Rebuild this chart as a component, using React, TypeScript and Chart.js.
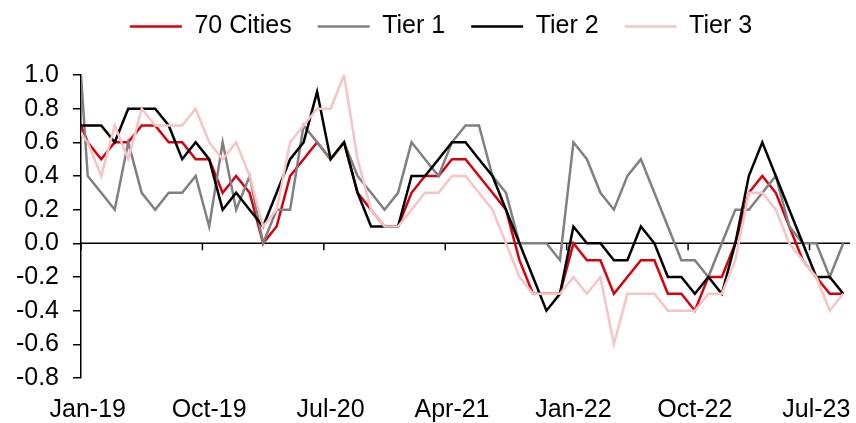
import React, { useEffect, useRef } from 'react';
import { Chart, registerables } from 'chart.js';

Chart.register(...registerables);

// Months (Dec-18 sits just left of the plot and is clipped, as in the source)
const MONTHS = [
  'Dec-18',
  'Jan-19', 'Feb-19', 'Mar-19', 'Apr-19', 'May-19', 'Jun-19', 'Jul-19', 'Aug-19', 'Sep-19', 'Oct-19', 'Nov-19', 'Dec-19',
  'Jan-20', 'Feb-20', 'Mar-20', 'Apr-20', 'May-20', 'Jun-20', 'Jul-20', 'Aug-20', 'Sep-20', 'Oct-20', 'Nov-20', 'Dec-20',
  'Jan-21', 'Feb-21', 'Mar-21', 'Apr-21', 'May-21', 'Jun-21', 'Jul-21', 'Aug-21', 'Sep-21', 'Oct-21', 'Nov-21', 'Dec-21',
  'Jan-22', 'Feb-22', 'Mar-22', 'Apr-22', 'May-22', 'Jun-22', 'Jul-22', 'Aug-22', 'Sep-22', 'Oct-22', 'Nov-22', 'Dec-22',
  'Jan-23', 'Feb-23', 'Mar-23', 'Apr-23', 'May-23', 'Jun-23', 'Jul-23', 'Aug-23', 'Sep-23',
];

const TICK_LABELS = ['Jan-19', 'Oct-19', 'Jul-20', 'Apr-21', 'Jan-22', 'Oct-22', 'Jul-23'];
const FIRST_MONTH = 'Jan-19';
const LAST_MONTH = 'Sep-23';

const CITIES70 = [
  0.8,
  0.6, 0.5, 0.6, 0.6, 0.7, 0.7, 0.6, 0.6, 0.5, 0.5, 0.3, 0.4,
  0.3, 0.0, 0.1, 0.4, 0.5, 0.6, 0.5, 0.6, 0.3, 0.2, 0.1, 0.1,
  0.3, 0.4, 0.4, 0.5, 0.5, 0.4, 0.3, 0.2, -0.1, -0.3, -0.3, -0.3,
  0.0, -0.1, -0.1, -0.3, -0.2, -0.1, -0.1, -0.3, -0.3, -0.4, -0.2, -0.2,
  0.0, 0.3, 0.4, 0.3, 0.1, -0.1, -0.2, -0.3, -0.3,
];

const TIER1 = [
  1.6,
  0.4, 0.3, 0.2, 0.6, 0.3, 0.2, 0.3, 0.3, 0.4, 0.1, 0.6, 0.2,
  0.4, 0.0, 0.2, 0.2, 0.7, 0.6, 0.5, 0.6, 0.4, 0.3, 0.2, 0.3,
  0.6, 0.5, 0.4, 0.6, 0.7, 0.7, 0.4, 0.3, 0.0, 0.0, 0.0, -0.1,
  0.6, 0.5, 0.3, 0.2, 0.4, 0.5, 0.3, 0.1, -0.1, -0.1, -0.2, 0.0,
  0.2, 0.2, 0.3, 0.4, 0.1, 0.0, 0.0, -0.2, 0.0,
];

const TIER2 = [
  0.7,
  0.7, 0.7, 0.6, 0.8, 0.8, 0.8, 0.7, 0.5, 0.6, 0.5, 0.2, 0.3,
  0.2, 0.1, 0.3, 0.5, 0.6, 0.9, 0.5, 0.6, 0.3, 0.1, 0.1, 0.1,
  0.4, 0.4, 0.5, 0.6, 0.6, 0.5, 0.4, 0.2, 0.0, -0.2, -0.4, -0.3,
  0.1, 0.0, 0.0, -0.1, -0.1, 0.1, 0.0, -0.2, -0.2, -0.3, -0.2, -0.3,
  0.0, 0.4, 0.6, 0.4, 0.2, 0.0, -0.2, -0.2, -0.3,
];

const TIER3 = [
  0.7,
  0.6, 0.4, 0.7, 0.5, 0.8, 0.7, 0.7, 0.7, 0.8, 0.6, 0.5, 0.6,
  0.4, 0.1, 0.2, 0.6, 0.7, 0.8, 0.8, 1.0, 0.5, 0.2, 0.1, 0.1,
  0.2, 0.3, 0.3, 0.4, 0.4, 0.3, 0.2, 0.0, -0.2, -0.3, -0.3, -0.3,
  -0.2, -0.3, -0.2, -0.6, -0.3, -0.3, -0.3, -0.4, -0.4, -0.4, -0.3, -0.3,
  -0.1, 0.3, 0.3, 0.2, 0.0, -0.1, -0.2, -0.4, -0.3,
];

const SERIES = [
  { label: '70 Cities', values: CITIES70, color: '#d9000d', order: 4 },
  { label: 'Tier 1', values: TIER1, color: '#808080', order: 3 },
  { label: 'Tier 2', values: TIER2, color: '#000000', order: 2 },
  { label: 'Tier 3', values: TIER3, color: '#f6c4c4', order: 1 },
];

const Y_MIN = -0.8;
const Y_MAX = 1.0;
const Y_STEP = 0.2;

const FONT = "'Liberation Sans', Arial, sans-serif";

// month index relative to Jan-19
const pos = (m: string) => MONTHS.indexOf(m) - MONTHS.indexOf(FIRST_MONTH);

export default function App() {
  const ref = useRef<HTMLCanvasElement | null>(null);

  useEffect(() => {
    if (!ref.current) return;
    Chart.defaults.font.family = FONT;
    Chart.defaults.color = '#000';

    const legendHeight = {
      id: 'legendHeight',
      beforeInit(chart: any) {
        const orig = chart.legend.fit;
        chart.legend.fit = function () {
          orig.bind(chart.legend)();
          this.height = 90;
        };
      },
      afterLayout(chart: any) {
        const lg = chart.legend;
        lg.left += 16;
        lg.right += 16;
        lg.top += 3;
      },
    };

    const zeroAxis = {
      id: 'zeroAxis',
      beforeDatasetsDraw(chart: any) {
        const { ctx, chartArea, scales } = chart;
        const y0 = scales.y.getPixelForValue(0);
        ctx.save();
        ctx.strokeStyle = '#000';
        ctx.lineWidth = 1.5;
        ctx.beginPath();
        ctx.moveTo(chartArea.left, y0);
        ctx.lineTo(chartArea.right, y0);
        TICK_LABELS.forEach((l) => {
          const px = scales.x.getPixelForValue(pos(l) - 0.5);
          ctx.moveTo(px, y0);
          ctx.lineTo(px, y0 + 7);
        });
        ctx.stroke();
        ctx.restore();
      },
    };

    const chart = new Chart(ref.current, {
      type: 'line',
      data: {
        datasets: SERIES.map((s) => ({
          label: s.label,
          data: s.values.map((v, i) => ({ x: pos(MONTHS[i]), y: v })),
          borderColor: s.color,
          backgroundColor: s.color,
          borderWidth: 2.5,
          pointRadius: 0,
          tension: 0,
          order: s.order,
        })),
      },
      options: {
        responsive: false,
        animation: false,
        layout: { padding: { top: -15, right: 6, left: 0, bottom: 0 } },
        plugins: {
          tooltip: { enabled: false },
          legend: {
            position: 'top',
            align: 'center',
            labels: {
              font: { size: 25, family: FONT },
              color: '#000',
              usePointStyle: true,
              pointStyle: 'line',
              pointStyleWidth: 52,
              padding: 26,
              sort: (a: any, b: any) => a.datasetIndex - b.datasetIndex,
            },
          },
        },
        scales: {
          x: {
            type: 'linear',
            min: pos(FIRST_MONTH) - 0.5,
            max: pos(LAST_MONTH) + 0.5,
            grid: { display: false, drawTicks: false },
            border: { display: false },
            afterBuildTicks: (scale: any) => {
              scale.ticks = TICK_LABELS.map((l) => ({ value: pos(l) }));
            },
            afterFit: (scale: any) => {
              scale.height = 45;
              scale.paddingLeft = 0;
              scale.paddingRight = 0;
            },
            ticks: {
              autoSkip: false,
              maxRotation: 0,
              padding: 17,
              font: { size: 25, family: FONT },
              color: '#000',
              callback: (v: any) => MONTHS[Math.round(v) + MONTHS.indexOf(FIRST_MONTH)],
            },
          },
          y: {
            min: Y_MIN,
            max: Y_MAX,
            grid: {
              drawOnChartArea: false,
              drawTicks: true,
              tickLength: 8,
              color: '#000',
              lineWidth: 1.5,
            },
            border: { display: true, color: '#000', width: 1.5 },
            afterFit: (scale: any) => {
              scale.width = 81;
              scale.paddingTop = 0;
              scale.paddingBottom = 0;
            },
            ticks: {
              stepSize: Y_STEP,
              padding: 14,
              font: { size: 25, family: FONT },
              color: '#000',
              callback: (v: any) => (Math.round(Number(v) * 10) / 10).toFixed(1),
            },
          },
        },
      },
      plugins: [legendHeight, zeroAxis],
    } as any);

    return () => chart.destroy();
  }, []);

  return (
    <div style={{ position: 'absolute', left: 0, top: 0, width: 856, height: 423, background: '#fff' }}>
      <canvas ref={ref} width={856} height={423} />
    </div>
  );
}
